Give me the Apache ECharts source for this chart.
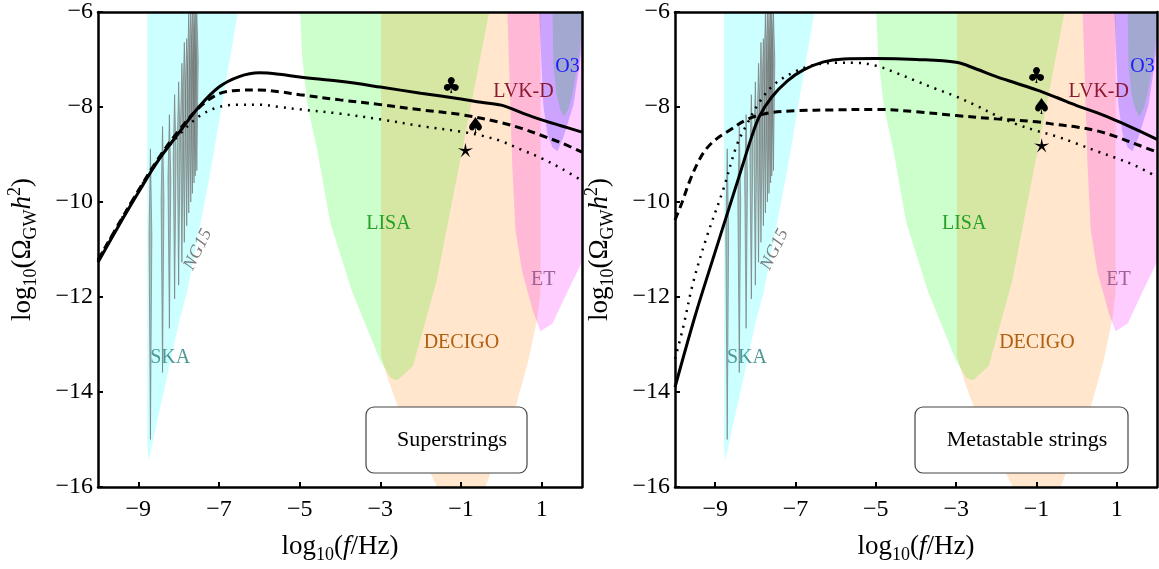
<!DOCTYPE html>
<html>
<head>
<meta charset="utf-8">
<script src="https://cdn.jsdelivr.net/npm/echarts@6/dist/echarts.min.js"></script>
<style>
  html, body { margin: 0; padding: 0; background: #fff; }
  #chart { width: 1159px; height: 569px; }
</style>
</head>
<body>
<div id="chart"></div>
<script>
// ticks
const xTicks = [-9, -7, -5, -3, -1, 1]
const yTicks = [-16, -14, -12, -10, -8, -6]

// detector sensitivity outlines, [log10 f, log10 Omega h^2]
const ska = [[-8.78, -6], [-8.78, -15.07], [-8.75, -15.44], [-8.51, -14.53], [-7.97, -12.45], [-7.79, -11.89], [-7.22, -9.40], [-6.53, -6]]
const lisa = [[-4.99, -6], [-4.94, -6.91], [-4.81, -7.95], [-4.57, -8.88], [-4.24, -10.44], [-3.70, -11.89], [-3.0, -13.34], [-2.75, -13.70], [-2.58, -13.76], [-2.19, -13.45], [-1.61, -11.68], [-0.30, -6]]
const decigo = [[-2.98, -6], [-2.98, -13.24], [-2.80, -13.76], [-2.56, -14.32], [-1.59, -16], [-0.40, -16], [0.35, -14.32], [0.67, -13.34], [0.89, -12.45], [0.97, -11.89], [0.97, -6]]
const et = [[0.15, -6], [0.27, -9.20], [0.35, -10.59], [0.52, -11.48], [0.79, -12.31], [0.97, -12.72], [1.27, -12.56], [1.64, -11.89], [1.96, -11.33], [2.0, -11.23], [2.0, -6]]
const lvkd = [[0.94, -6], [1.0, -7.2], [1.04, -7.95], [1.14, -8.57], [1.27, -8.85], [1.39, -8.93], [1.54, -8.63], [1.79, -7.95], [1.93, -7.15], [2.0, -6.7], [2.0, -6]]
const o3 = [[1.27, -6], [1.29, -7.12], [1.37, -7.74], [1.46, -8.05], [1.56, -8.20], [1.66, -8.05], [1.76, -7.74], [1.93, -6.91], [2.0, -6.3], [2.0, -6]]

// NANOGrav 15 yr violins
const ng15Freq = [-8.70, -8.40, -8.23, -8.10, -8.00, -7.92, -7.86, -7.80, -7.75, -7.70, -7.66, -7.62, -7.59, -7.55]
const ng15Top = [-8.88, -8.41, -8.16, -7.74, -7.47, -7.08, -6.64, -6.56, -6.04, -5.9, -5.8, -5.8, -5.7, -5.6]
const ng15Bottom = [-15.0, -13.59, -12.66, -12.04, -11.75, -11.27, -10.85, -10.50, -10.23, -10.0, -9.82, -9.6, -9.45, -9.34]

// superstrings
const superSolid = [[-10, -11.27], [-9.5, -10.52], [-9, -9.8], [-8.5, -9.12], [-8, -8.55], [-7.5, -8.0], [-7, -7.58], [-6.5, -7.36], [-6, -7.28], [-5.5, -7.31], [-5, -7.37], [-4, -7.46], [-3, -7.58], [-2, -7.71], [-1, -7.83], [-0.5, -7.9], [0, -7.96], [0.5, -8.12], [1, -8.27], [1.5, -8.40], [2, -8.53]]
const superDashed = [[-10, -11.22], [-9.5, -10.48], [-9, -9.76], [-8.5, -9.08], [-8, -8.5], [-7.5, -8.02], [-7, -7.72], [-6.5, -7.65], [-6, -7.64], [-5.5, -7.68], [-5, -7.74], [-4, -7.85], [-3, -7.95], [-2, -8.06], [-1, -8.16], [0, -8.33], [0.5, -8.45], [1, -8.6], [1.5, -8.76], [2, -8.95]]
const superDotted = [[-10, -11.22], [-9.5, -10.48], [-9, -9.76], [-8.5, -9.1], [-8, -8.6], [-7.5, -8.2], [-7, -8.0], [-6.5, -7.95], [-6, -7.95], [-5.5, -8.0], [-5, -8.05], [-4, -8.14], [-3, -8.26], [-2, -8.40], [-1, -8.52], [-0.5, -8.6], [0, -8.72], [0.5, -8.9], [1, -9.08], [1.5, -9.3], [2, -9.55]]
const superMarks = [['♣', -1.24, -7.58], ['♠', -0.64, -8.43]]
const superStar = [[-0.89, -8.92]]

// metastable strings
const metaSolid = [[-10, -13.9], [-9.5, -12.4], [-9, -11.05], [-8.7, -10.25], [-8.4, -9.45], [-8.1, -8.65], [-7.9, -8.2], [-7.6, -7.8], [-7.2, -7.45], [-6.8, -7.22], [-6.3, -7.05], [-5.8, -6.99], [-5, -6.98], [-4, -7.0], [-3, -7.06], [-2.5, -7.2], [-2, -7.36], [-1.5, -7.5], [-1, -7.64], [-0.5, -7.8], [0, -7.97], [0.5, -8.12], [1, -8.29], [1.5, -8.48], [2, -8.68]]
const metaDashed = [[-10, -10.38], [-9.83, -10.02], [-9.63, -9.55], [-9.4, -9.12], [-9.2, -8.86], [-8.95, -8.66], [-8.7, -8.52], [-8.2, -8.26], [-7.7, -8.13], [-7, -8.08], [-6, -8.06], [-5, -8.05], [-4, -8.1], [-3, -8.18], [-2, -8.25], [-1, -8.31], [-0.5, -8.37], [0, -8.42], [0.5, -8.5], [1, -8.63], [1.5, -8.79], [2, -8.95]]
const metaDotted = [[-10, -13.3], [-9.8, -12.65], [-9.55, -11.7], [-9.2, -10.71], [-8.8, -9.74], [-8.46, -8.8], [-8.2, -8.35], [-7.9, -7.9], [-7.55, -7.54], [-7.05, -7.27], [-6.55, -7.12], [-6, -7.07], [-5.5, -7.07], [-5, -7.13], [-4.5, -7.28], [-4, -7.45], [-3.5, -7.62], [-3, -7.78], [-2.5, -7.97], [-2, -8.18], [-1.5, -8.36], [-1, -8.5], [-0.5, -8.62], [0, -8.77], [0.5, -8.93], [1, -9.08], [1.5, -9.25], [2, -9.47]]
const metaMarks = [['♣', -1.0, -7.37], ['♠', -0.87, -8.02]]
const metaStar = [[-0.87, -8.82]]

// region labels: text, x, y
const regionLabels = [['SKA', -8.21, -13.28], ['LISA', -2.80, -10.46], ['DECIGO', -0.99, -12.97], ['ET', 1.04, -11.64], ['LVK-D', 0.55, -7.68], ['O3', 1.64, -7.16]]
const ngLabel = [['NG15', -7.52, -11.0]]

const FONT = '"Liberation Serif", "DejaVu Serif", serif'
const regions = [
  { pts: ska, color: 'rgba(0,255,255,0.2)' },
  { pts: lisa, color: 'rgba(0,255,0,0.2)' },
  { pts: decigo, color: 'rgba(255,128,0,0.2)' },
  { pts: et, color: 'rgba(255,0,255,0.2)' },
  { pts: lvkd, color: 'rgba(0,0,255,0.2)' },
  { pts: o3, color: 'rgba(0,190,20,0.2)' }
]
const labelColors = { SKA: '#4f9898', LISA: '#26a026', DECIGO: '#b0600f', ET: '#a0609a', 'LVK-D': '#8a1a30', O3: '#1a1aff' }

const fmt = v => (v < 0 ? '\u2212' + (-v) : String(v))
const rich = {
  a: { fontFamily: FONT, fontSize: 27, lineHeight: 34, color: '#000' },
  i: { fontFamily: FONT, fontSize: 27, lineHeight: 34, fontStyle: 'italic', color: '#000' },
  s: { fontFamily: FONT, fontSize: 18, lineHeight: 18, verticalAlign: 'bottom', color: '#000' },
  p: { fontFamily: FONT, fontSize: 18, lineHeight: 18, verticalAlign: 'top', color: '#000' }
}

function xAxes(g) {
  return [{
    gridIndex: g, type: 'value', min: -10, max: 2, z: 10,
    axisLine: { onZero: false, lineStyle: { color: '#000', width: 2.5 } },
    axisTick: { inside: true, length: 5, customValues: xTicks, lineStyle: { color: '#000', width: 2 } },
    axisLabel: { customValues: xTicks, formatter: fmt, fontFamily: FONT, fontSize: 24, color: '#000', margin: 11 },
    splitLine: { show: false },
    name: '{a|log}{s|10}{a|(}{i|f}{a|/Hz)}',
    nameLocation: 'middle', nameGap: 43,
    nameTextStyle: { rich }
  }, {
    gridIndex: g, type: 'value', min: -10, max: 2, position: 'top', z: 10,
    axisLine: { onZero: false, lineStyle: { color: '#000', width: 2.5 } },
    axisTick: { show: false }, axisLabel: { show: false }, splitLine: { show: false }
  }]
}

function yAxes(g) {
  return [{
    gridIndex: g, type: 'value', min: -16, max: -6, interval: 2, z: 10,
    axisLine: { onZero: false, lineStyle: { color: '#000', width: 2.5 } },
    axisTick: { inside: true, length: 5, lineStyle: { color: '#000', width: 2 } },
    axisLabel: { formatter: fmt, fontFamily: FONT, fontSize: 24, color: '#000', margin: 5, showMinLabel: true, showMaxLabel: true },
    splitLine: { show: false },
    name: '{a|log}{s|10}{a|(Ω}{s|GW}{i|h}{p|2}{a|)}',
    nameLocation: 'middle', nameGap: 58, nameRotate: 90,
    nameTextStyle: { rich }
  }, {
    gridIndex: g, type: 'value', min: -16, max: -6, position: 'right', z: 10,
    axisLine: { onZero: false, lineStyle: { color: '#000', width: 2.5 } },
    axisTick: { show: false }, axisLabel: { show: false }, splitLine: { show: false }
  }]
}

function panelSeries(g, solid, dashed, dotted, marks, star) {
  const ax = { xAxisIndex: g * 2, yAxisIndex: g * 2 }
  const line = (data, type, width) => Object.assign({
    type: 'line', data, smooth: 0.35, symbol: 'none', silent: true, z: 5,
    lineStyle: { color: '#000', width, type }
  }, ax)
  return [
    Object.assign({
      type: 'custom', clip: true, silent: true, z: 1,
      data: regions.map(r => r.pts[0]),
      renderItem: (params, api) => ({
        type: 'polygon',
        shape: { points: regions[params.dataIndex].pts.map(p => api.coord(p)) },
        style: { fill: regions[params.dataIndex].color }
      })
    }, ax),
    Object.assign({
      type: 'custom', clip: true, silent: true, z: 2,
      data: ng15Freq.map((f, i) => [f, Math.min(ng15Top[i], -6), ng15Bottom[i]]),
      renderItem: (params, api) => {
        const t = api.coord([api.value(0), api.value(1)])
        const b = api.coord([api.value(0), api.value(2)])
        const ym = t[1] + (b[1] - t[1]) * 0.3
        return {
          type: 'polygon',
          shape: { points: [t, [t[0] + 1.4, ym], b, [t[0] - 1.4, ym]] },
          style: { fill: 'rgba(110,110,110,0.45)', stroke: 'rgba(110,110,110,0.75)', lineWidth: 0.8 }
        }
      }
    }, ax),
    line(solid, 'solid', 3),
    line(dashed, [8, 5], 3),
    line(dotted, [2, 6], 2.5),
    Object.assign({
      type: 'custom', silent: true, z: 6,
      data: marks.map(m => [m[1], m[2]]),
      renderItem: (params, api) => {
        const c = api.coord([api.value(0), api.value(1)])
        return {
          type: 'text', x: c[0], y: c[1],
          style: { text: marks[params.dataIndex][0], fill: '#000', fontSize: 22, fontFamily: 'DejaVu Sans', align: 'center', verticalAlign: 'middle' }
        }
      }
    }, ax),
    Object.assign({
      type: 'custom', silent: true, z: 6,
      data: star,
      renderItem: (params, api) => {
        const c = api.coord([api.value(0), api.value(1)])
        const pts = []
        for (let k = 0; k < 10; k++) {
          const r = k % 2 ? 2.2 : 8
          const a = -Math.PI / 2 + k * Math.PI / 5
          pts.push([c[0] + r * Math.cos(a), c[1] + r * Math.sin(a)])
        }
        return { type: 'polygon', shape: { points: pts }, style: { fill: '#000' } }
      }
    }, ax),
    Object.assign({
      type: 'custom', silent: true, z: 7,
      data: regionLabels.map(l => [l[1], l[2]]),
      renderItem: (params, api) => {
        const c = api.coord([api.value(0), api.value(1)])
        const name = regionLabels[params.dataIndex][0]
        return {
          type: 'text', x: c[0], y: c[1],
          style: { text: name, fill: labelColors[name], fontSize: 20, fontFamily: FONT, align: 'center', verticalAlign: 'middle' }
        }
      }
    }, ax),
    Object.assign({
      type: 'custom', silent: true, z: 7,
      data: ngLabel.map(l => [l[1], l[2]]),
      renderItem: (params, api) => {
        const c = api.coord([api.value(0), api.value(1)])
        return {
          type: 'text', x: c[0], y: c[1], rotation: 64 * Math.PI / 180,
          style: { text: ngLabel[0][0], fill: '#7a7a7a', fontSize: 18, fontFamily: FONT, fontStyle: 'italic', align: 'center', verticalAlign: 'middle' }
        }
      }
    }, ax)
  ]
}

const chart = echarts.init(document.getElementById('chart'))
chart.setOption({
  animation: false,
  backgroundColor: '#fff',
  grid: [
    { left: 98, top: 6, width: 484, height: 482 },
    { left: 675, top: 6, width: 482, height: 482 }
  ],
  xAxis: [...xAxes(0), ...xAxes(1)],
  yAxis: [...yAxes(0), ...yAxes(1)],
  series: [
    ...panelSeries(0, superSolid, superDashed, superDotted, superMarks, superStar),
    ...panelSeries(1, metaSolid, metaDashed, metaDotted, metaMarks, metaStar)
  ],
  graphic: [
    { type: 'rect', z: 100, shape: { x: 366, y: 407, width: 161, height: 66, r: 8 }, style: { fill: '#fff', stroke: '#444', lineWidth: 1.2 } },
    { type: 'text', z: 101, x: 452, y: 440, style: { text: 'Superstrings', fill: '#000', fontSize: 22, fontFamily: FONT, align: 'center', verticalAlign: 'middle' } },
    { type: 'rect', z: 100, shape: { x: 915, y: 407, width: 213, height: 66, r: 8 }, style: { fill: '#fff', stroke: '#444', lineWidth: 1.2 } },
    { type: 'text', z: 101, x: 1027, y: 440, style: { text: 'Metastable strings', fill: '#000', fontSize: 22, fontFamily: FONT, align: 'center', verticalAlign: 'middle' } }
  ]
})
</script>
</body>
</html>
